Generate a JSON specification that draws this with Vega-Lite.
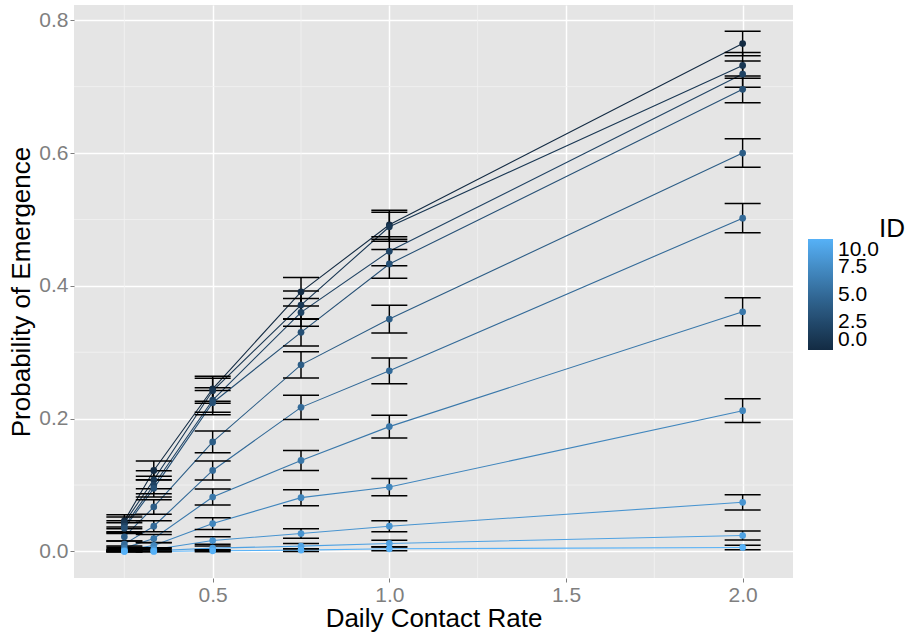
{
  "$schema": "https://vega.github.io/schema/vega-lite/v6.json",
  "width": 719,
  "height": 573,
  "autosize": {"type": "none"},
  "padding": {"left": 74, "top": 5, "right": 121, "bottom": 54},
  "background": "white",
  "config": {
    "font": "Liberation Sans",
    "view": {"fill": "#E5E5E5", "stroke": null},
    "axis": {
      "domain": false,
      "grid": true,
      "gridColor": "white",
      "gridWidth": 1.5,
      "tickColor": "#7F7F7F",
      "tickSize": 4,
      "tickWidth": 1,
      "labelColor": "#7F7F7F",
      "labelFontSize": 21,
      "labelPadding": 2,
      "titleFontSize": 26,
      "titleFontWeight": "normal",
      "titleColor": "black"
    }
  },
  "resolve": {"legend": {"color": "independent"}},
  "datasets": {
    "minorX": [{"rate": 0.25}, {"rate": 0.75}, {"rate": 1.25}, {"rate": 1.75}],
    "minorY": [{"p": 0.1}, {"p": 0.3}, {"p": 0.5}, {"p": 0.7}],
    "main": [
      {"id": 0, "rate": 0.25, "p": 0.046, "lo": 0.0368, "hi": 0.0552},
      {"id": 0, "rate": 0.3333, "p": 0.122, "lo": 0.1077, "hi": 0.1363},
      {"id": 0, "rate": 0.5, "p": 0.245, "lo": 0.2261, "hi": 0.2639},
      {"id": 0, "rate": 0.75, "p": 0.391, "lo": 0.3696, "hi": 0.4124},
      {"id": 0, "rate": 1.0, "p": 0.492, "lo": 0.4701, "hi": 0.5139},
      {"id": 0, "rate": 2.0, "p": 0.765, "lo": 0.7464, "hi": 0.7836},
      {"id": 1, "rate": 0.25, "p": 0.043, "lo": 0.0341, "hi": 0.0519},
      {"id": 1, "rate": 0.3333, "p": 0.108, "lo": 0.0944, "hi": 0.1216},
      {"id": 1, "rate": 0.5, "p": 0.242, "lo": 0.2232, "hi": 0.2608},
      {"id": 1, "rate": 0.75, "p": 0.371, "lo": 0.3498, "hi": 0.3922},
      {"id": 1, "rate": 1.0, "p": 0.489, "lo": 0.4671, "hi": 0.5109},
      {"id": 1, "rate": 2.0, "p": 0.732, "lo": 0.7126, "hi": 0.7514},
      {"id": 2, "rate": 0.25, "p": 0.038, "lo": 0.0296, "hi": 0.0464},
      {"id": 2, "rate": 0.3333, "p": 0.100, "lo": 0.0869, "hi": 0.1131},
      {"id": 2, "rate": 0.5, "p": 0.228, "lo": 0.2096, "hi": 0.2464},
      {"id": 2, "rate": 0.75, "p": 0.360, "lo": 0.3390, "hi": 0.3810},
      {"id": 2, "rate": 1.0, "p": 0.452, "lo": 0.4302, "hi": 0.4738},
      {"id": 2, "rate": 2.0, "p": 0.719, "lo": 0.6993, "hi": 0.7387},
      {"id": 3, "rate": 0.25, "p": 0.035, "lo": 0.0269, "hi": 0.0431},
      {"id": 3, "rate": 0.3333, "p": 0.095, "lo": 0.0821, "hi": 0.1079},
      {"id": 3, "rate": 0.5, "p": 0.224, "lo": 0.2057, "hi": 0.2423},
      {"id": 3, "rate": 0.75, "p": 0.330, "lo": 0.3094, "hi": 0.3506},
      {"id": 3, "rate": 1.0, "p": 0.433, "lo": 0.4113, "hi": 0.4547},
      {"id": 3, "rate": 2.0, "p": 0.696, "lo": 0.6758, "hi": 0.7162},
      {"id": 4, "rate": 0.25, "p": 0.022, "lo": 0.0156, "hi": 0.0284},
      {"id": 4, "rate": 0.3333, "p": 0.067, "lo": 0.0560, "hi": 0.0780},
      {"id": 4, "rate": 0.5, "p": 0.165, "lo": 0.1487, "hi": 0.1813},
      {"id": 4, "rate": 0.75, "p": 0.281, "lo": 0.2613, "hi": 0.3007},
      {"id": 4, "rate": 1.0, "p": 0.350, "lo": 0.3291, "hi": 0.3709},
      {"id": 4, "rate": 2.0, "p": 0.600, "lo": 0.5785, "hi": 0.6215},
      {"id": 5, "rate": 0.25, "p": 0.011, "lo": 0.0064, "hi": 0.0156},
      {"id": 5, "rate": 0.3333, "p": 0.038, "lo": 0.0296, "hi": 0.0464},
      {"id": 5, "rate": 0.5, "p": 0.122, "lo": 0.1077, "hi": 0.1363},
      {"id": 5, "rate": 0.75, "p": 0.217, "lo": 0.1989, "hi": 0.2351},
      {"id": 5, "rate": 1.0, "p": 0.272, "lo": 0.2525, "hi": 0.2915},
      {"id": 5, "rate": 2.0, "p": 0.502, "lo": 0.4801, "hi": 0.5239},
      {"id": 6, "rate": 0.25, "p": 0.005, "lo": 0.0019, "hi": 0.0081},
      {"id": 6, "rate": 0.3333, "p": 0.0195, "lo": 0.0134, "hi": 0.0256},
      {"id": 6, "rate": 0.5, "p": 0.082, "lo": 0.0700, "hi": 0.0940},
      {"id": 6, "rate": 0.75, "p": 0.137, "lo": 0.1219, "hi": 0.1521},
      {"id": 6, "rate": 1.0, "p": 0.188, "lo": 0.1709, "hi": 0.2051},
      {"id": 6, "rate": 2.0, "p": 0.361, "lo": 0.3399, "hi": 0.3821},
      {"id": 7, "rate": 0.25, "p": 0.002, "lo": 0.0000, "hi": 0.0040},
      {"id": 7, "rate": 0.3333, "p": 0.009, "lo": 0.0049, "hi": 0.0131},
      {"id": 7, "rate": 0.5, "p": 0.042, "lo": 0.0332, "hi": 0.0508},
      {"id": 7, "rate": 0.75, "p": 0.081, "lo": 0.0690, "hi": 0.0930},
      {"id": 7, "rate": 1.0, "p": 0.097, "lo": 0.0840, "hi": 0.1100},
      {"id": 7, "rate": 2.0, "p": 0.212, "lo": 0.1941, "hi": 0.2299},
      {"id": 8, "rate": 0.25, "p": 0.001, "lo": -0.0004, "hi": 0.0024},
      {"id": 8, "rate": 0.3333, "p": 0.003, "lo": 0.0006, "hi": 0.0054},
      {"id": 8, "rate": 0.5, "p": 0.0165, "lo": 0.0109, "hi": 0.0221},
      {"id": 8, "rate": 0.75, "p": 0.027, "lo": 0.0199, "hi": 0.0341},
      {"id": 8, "rate": 1.0, "p": 0.038, "lo": 0.0296, "hi": 0.0464},
      {"id": 8, "rate": 2.0, "p": 0.074, "lo": 0.0625, "hi": 0.0855},
      {"id": 9, "rate": 0.25, "p": 0.0005, "lo": -0.0005, "hi": 0.0015},
      {"id": 9, "rate": 0.3333, "p": 0.001, "lo": -0.0004, "hi": 0.0024},
      {"id": 9, "rate": 0.5, "p": 0.005, "lo": 0.0019, "hi": 0.0081},
      {"id": 9, "rate": 0.75, "p": 0.008, "lo": 0.0041, "hi": 0.0119},
      {"id": 9, "rate": 1.0, "p": 0.012, "lo": 0.0072, "hi": 0.0168},
      {"id": 9, "rate": 2.0, "p": 0.024, "lo": 0.0173, "hi": 0.0307},
      {"id": 10, "rate": 0.25, "p": 0.0, "lo": 0.0, "hi": 0.0},
      {"id": 10, "rate": 0.3333, "p": 0.0, "lo": 0.0, "hi": 0.0},
      {"id": 10, "rate": 0.5, "p": 0.001, "lo": -0.0004, "hi": 0.0024},
      {"id": 10, "rate": 0.75, "p": 0.002, "lo": 0.0, "hi": 0.004},
      {"id": 10, "rate": 1.0, "p": 0.004, "lo": 0.0012, "hi": 0.0068},
      {"id": 10, "rate": 2.0, "p": 0.006, "lo": 0.0026, "hi": 0.0094}
    ]
  },
  "layer": [
    {
      "data": {"name": "minorX"},
      "mark": {"type": "rule", "color": "#F2F2F2", "strokeWidth": 0.8},
      "encoding": {
        "x": {"field": "rate", "type": "quantitative", "title": "Daily Contact Rate",
              "scale": {"domain": [0.1075, 2.1425], "nice": false, "zero": false},
              "axis": {"values": [0.5, 1.0, 1.5, 2.0], "format": ".1f", "titlePadding": 0}}
      }
    },
    {
      "data": {"name": "minorY"},
      "mark": {"type": "rule", "color": "#F2F2F2", "strokeWidth": 0.8},
      "encoding": {
        "y": {"field": "p", "type": "quantitative", "title": "Probability of Emergence",
              "scale": {"domain": [-0.04, 0.823], "nice": false, "zero": false},
              "axis": {"values": [0, 0.2, 0.4, 0.6, 0.8], "format": ".1f", "titlePadding": 4}}
      }
    },
    {
      "data": {"name": "main"},
      "mark": {"type": "line", "strokeWidth": 1.1},
      "encoding": {
        "x": {"field": "rate", "type": "quantitative", "title": "Daily Contact Rate"},
        "y": {"field": "p", "type": "quantitative", "title": "Probability of Emergence"},
        "detail": {"field": "id", "type": "nominal"},
        "color": {"field": "id", "type": "quantitative",
                  "scale": {"domain": [0, 10], "range": ["#132B43", "#56B1F7"], "interpolate": "lab"},
                  "legend": null}
      }
    },
    {
      "data": {"name": "main"},
      "mark": {"type": "rule", "color": "black", "strokeWidth": 1.5},
      "encoding": {
        "x": {"field": "rate", "type": "quantitative", "title": "Daily Contact Rate"},
        "y": {"field": "lo", "type": "quantitative", "title": "Probability of Emergence"},
        "y2": {"field": "hi"}
      }
    },
    {
      "data": {"name": "main"},
      "mark": {"type": "tick", "orient": "horizontal", "color": "black", "size": 36, "thickness": 1.5, "opacity": 1},
      "encoding": {
        "x": {"field": "rate", "type": "quantitative", "title": "Daily Contact Rate"},
        "y": {"field": "lo", "type": "quantitative", "title": "Probability of Emergence"}
      }
    },
    {
      "data": {"name": "main"},
      "mark": {"type": "tick", "orient": "horizontal", "color": "black", "size": 36, "thickness": 1.5, "opacity": 1},
      "encoding": {
        "x": {"field": "rate", "type": "quantitative", "title": "Daily Contact Rate"},
        "y": {"field": "hi", "type": "quantitative", "title": "Probability of Emergence"}
      }
    },
    {
      "data": {"name": "main"},
      "mark": {"type": "circle", "size": 45, "opacity": 1},
      "encoding": {
        "x": {"field": "rate", "type": "quantitative", "title": "Daily Contact Rate"},
        "y": {"field": "p", "type": "quantitative", "title": "Probability of Emergence"},
        "color": {"field": "id", "type": "quantitative",
                  "legend": {"type": "gradient", "values": [0, 2.5, 5, 7.5, 10], "format": ".1f", "title": "ID",
                             "orient": "none", "legendX": 734, "legendY": 211, "direction": "vertical",
                             "gradientLength": 111, "gradientThickness": 25, "gradientStrokeWidth": 0,
                             "labelFontSize": 21, "labelColor": "black", "labelOffset": 5, "labelOverlap": false,
                             "labelBaseline": "middle",
                             "encode": {"labels": {"update": {"baseline": {"value": "middle"}}}},
                             "titleFontSize": 26, "titleFontWeight": "normal", "titleColor": "black",
                             "titleOrient": "top", "titleAnchor": "end", "titleAlign": "left",
                             "titlePadding": -3, "titleBaseline": "top", "padding": 0}}
      }
    }
  ]
}
